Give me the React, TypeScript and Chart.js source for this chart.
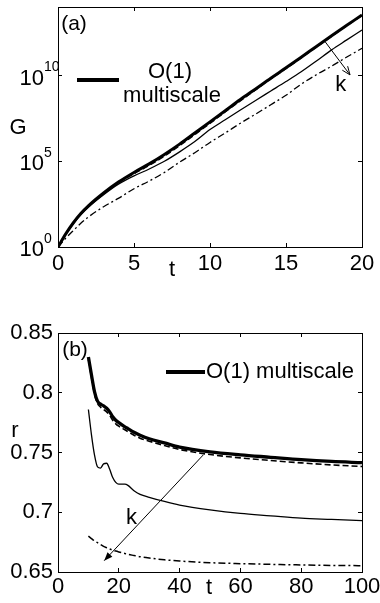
import React, { useEffect, useRef } from "react";
import { Chart, registerables } from "chart.js";

Chart.register(...registerables);

const FONT = '"Liberation Sans", Arial, Helvetica, sans-serif';

// ---------- Panel (a): G vs t (log scale) ----------
const tA = [0, 0.5, 1, 1.5, 2, 3, 4, 5, 6, 7, 8, 9, 10, 11, 12, 13, 14, 15, 16, 17, 18, 19, 20];
// log10(G) for each curve
const logG_O1 = [0, 0.75, 1.4, 1.95, 2.4, 3.15, 3.8, 4.35, 4.85, 5.4, 6.0, 6.65, 7.3, 7.95, 8.6, 9.22, 9.85, 10.45, 11.07, 11.7, 12.32, 12.93, 13.54];
const logG_k1 = [0, 0.73, 1.37, 1.92, 2.37, 3.11, 3.75, 4.27, 4.75, 5.29, 5.9, 6.55, 7.2, 7.87, 8.52, 9.16, 9.8, 10.4, 11.02, 11.65, 12.28, 12.9, 13.5];
const logG_k2 = [0, 0.72, 1.35, 1.88, 2.32, 3.05, 3.68, 4.15, 4.55, 5.0, 5.55, 6.15, 6.85, 7.42, 7.99, 8.55, 9.1, 9.65, 10.22, 10.85, 11.5, 12.08, 12.66];
const logG_k3 = [0, 0.5, 0.95, 1.38, 1.75, 2.35, 2.85, 3.4, 3.85, 4.35, 4.95, 5.5, 6.1, 6.65, 7.22, 7.75, 8.3, 8.85, 9.5, 10.05, 10.55, 11.08, 11.59];
const xTicksA = [0, 5, 10, 15, 20];
const xTickLabelsA = ["0", "5", "10", "15", "20"];
const yTickExpA = [0, 5, 10];
const legendA = ["O(1)", "multiscale"];

// ---------- Panel (b): r vs t ----------
const tB = [10, 11, 12, 13, 14, 15, 16, 17, 18, 19, 20, 22, 23, 25, 27, 30, 35, 40, 50, 60, 70, 80, 90, 100];
const r_O1 = [0.83, 0.815, 0.801, 0.793, 0.7905, 0.789, 0.787, 0.784, 0.78, 0.777, 0.775, 0.7715, 0.77, 0.767, 0.7645, 0.7615, 0.758, 0.7545, 0.7505, 0.748, 0.746, 0.744, 0.7425, 0.7415];
const r_k1 = [0.828, 0.813, 0.799, 0.791, 0.788, 0.786, 0.784, 0.781, 0.777, 0.774, 0.772, 0.769, 0.7675, 0.7645, 0.762, 0.7595, 0.7558, 0.7525, 0.7483, 0.7455, 0.7433, 0.7413, 0.7396, 0.7383];
const r_k2 = [0.786, 0.765, 0.748, 0.738, 0.737, 0.7405, 0.741, 0.736, 0.729, 0.725, 0.7235, 0.7235, 0.7225, 0.718, 0.715, 0.7125, 0.709, 0.706, 0.702, 0.699, 0.697, 0.695, 0.694, 0.693];
const r_k3 = [0.68, 0.678, 0.676, 0.6745, 0.673, 0.6715, 0.6703, 0.6692, 0.6683, 0.6675, 0.6668, 0.6655, 0.6648, 0.6638, 0.6628, 0.6617, 0.6602, 0.6592, 0.6578, 0.657, 0.6564, 0.6559, 0.6555, 0.6553];
const xTicksB = [0, 20, 40, 60, 80, 100];
const xTickLabelsB = ["0", "20", "40", "60", "80", "100"];
const yTicksB = [0.65, 0.7, 0.75, 0.8, 0.85];
const yTickLabelsB = ["0.65", "0.7", "0.75", "0.8", "0.85"];
const legendB = "O(1) multiscale";

// arrows (data coordinates): [tStart, yStart, tEnd, yEnd], and "k" label position
const arrowA = [17.57, 11.98, 19.21, 10.04];
const kLabelA = [18.6, 9.45];
const arrowB = [47.8, 0.748, 15.2, 0.6595];
const kLabelB = [24.2, 0.695];

const DASH = [6, 3];
const DASHDOT = [7, 3, 2, 3];

function pts(xs: number[], ys: number[], f?: (v: number) => number) {
  return xs.map((x, i) => ({ x, y: f ? f(ys[i]) : ys[i] }));
}
const pow10 = (v: number) => Math.pow(10, v);

function line(data: any[], width: number, dash: number[] = []) {
  return {
    data,
    borderColor: "#000",
    backgroundColor: "#000",
    borderWidth: width,
    borderDash: dash,
    pointRadius: 0,
    fill: false,
    cubicInterpolationMode: "monotone" as const,
  };
}

function drawArrow(ctx: CanvasRenderingContext2D, x1: number, y1: number, x2: number, y2: number, filled: boolean) {
  const ang = Math.atan2(y2 - y1, x2 - x1);
  const hl = 9;
  const ha = 0.38;
  ctx.save();
  ctx.strokeStyle = "#000000";
  ctx.fillStyle = "#000000";
  ctx.lineWidth = 1;
  ctx.setLineDash([]);
  ctx.beginPath();
  ctx.moveTo(x1, y1);
  ctx.lineTo(x2, y2);
  ctx.stroke();
  const ax = x2 - hl * Math.cos(ang - ha);
  const ay = y2 - hl * Math.sin(ang - ha);
  const bx = x2 - hl * Math.cos(ang + ha);
  const by = y2 - hl * Math.sin(ang + ha);
  ctx.beginPath();
  ctx.moveTo(ax, ay);
  ctx.lineTo(x2, y2);
  ctx.lineTo(bx, by);
  if (filled) {
    ctx.closePath();
    ctx.fill();
  } else {
    ctx.stroke();
  }
  ctx.restore();
}

function text(ctx: CanvasRenderingContext2D, s: string, x: number, y: number, size: number, align: CanvasTextAlign = "center") {
  ctx.save();
  ctx.fillStyle = "#000";
  ctx.font = `${size}px ${FONT}`;
  ctx.textAlign = align;
  ctx.textBaseline = "middle";
  ctx.fillText(s, x, y);
  ctx.restore();
}

const tickFont = { family: FONT, size: 22 };
const TL = -4; // inward tick marks

function noPad(s: any) {
  s.paddingTop = 0;
  s.paddingBottom = 0;
  s.paddingLeft = 0;
  s.paddingRight = 0;
}

// an axis that forms one side of the box frame, with inward ticks
function axis(type: string, position: string, min: number, max: number, tickVals: number[], opts: any) {
  return {
    type,
    position,
    min,
    max,
    border: { display: true, color: "#000", width: 1 },
    grid: { display: true, drawOnChartArea: false, drawTicks: true, tickLength: TL, color: "#000", lineWidth: 1 },
    afterBuildTicks: (s: any) => {
      s.ticks = tickVals.map((v) => ({ value: v }));
    },
    ...opts,
  };
}

function configA(): any {
  const deco = {
    id: "decoA",
    afterDraw(chart: any) {
      const ctx = chart.ctx;
      const xs = chart.scales.x;
      const ys = chart.scales.y;
      yTickExpA.forEach((e) => {
        const p = ys.getPixelForValue(pow10(e));
        text(ctx, String(e), 44, p - 8, 14, "left");
      });
      text(ctx, "G", 18, 128, 22);
      text(ctx, "t", 172, 270, 22);
      text(ctx, "(a)", 74, 24, 21);
      ctx.save();
      ctx.fillStyle = "#000";
      ctx.fillRect(77, 78, 42, 4);
      ctx.restore();
      text(ctx, legendA[0], 170, 72, 22);
      text(ctx, legendA[1], 172, 96, 22);
      drawArrow(ctx, xs.getPixelForValue(arrowA[0]), ys.getPixelForValue(pow10(arrowA[1])), xs.getPixelForValue(arrowA[2]), ys.getPixelForValue(pow10(arrowA[3])), false);
      text(ctx, "k", xs.getPixelForValue(kLabelA[0]), ys.getPixelForValue(pow10(kLabelA[1])), 22);
    },
  };
  const yVals = yTickExpA.map(pow10);
  return {
    type: "line",
    data: {
      datasets: [
        line(pts(tA, logG_k3, pow10), 1.3, DASHDOT),
        line(pts(tA, logG_k2, pow10), 1.3),
        line(pts(tA, logG_k1, pow10), 1.2, DASH),
        line(pts(tA, logG_O1, pow10), 3),
      ],
    },
    options: {
      responsive: false,
      animation: false,
      devicePixelRatio: 1,
      layout: { padding: { left: 0, right: 18, top: 7, bottom: 0 } },
      plugins: { legend: { display: false }, tooltip: { enabled: false } },
      scales: {
        x: axis("linear", "bottom", 0, 20, xTicksA, {
          afterFit: (s: any) => { s.height = 53; noPad(s); },
          ticks: { color: "#000", font: tickFont, padding: 8, maxRotation: 0, autoSkip: false, callback: (_v: any, i: number) => xTickLabelsA[i] },
        }),
        y: axis("logarithmic", "left", 1, 1e14, yVals, {
          afterFit: (s: any) => { s.width = 58; noPad(s); },
          ticks: { color: "#000", font: tickFont, padding: 18, labelOffset: 3, autoSkip: false, callback: () => "10" },
        }),
        x2: axis("linear", "top", 0, 20, xTicksA, {
          axis: "x",
          afterFit: (s: any) => { s.height = 0; noPad(s); },
          ticks: { display: false },
        }),
        y2: axis("logarithmic", "right", 1, 1e14, yVals, {
          axis: "y",
          afterFit: (s: any) => { s.width = 0; noPad(s); },
          ticks: { display: false },
        }),
      },
    },
    plugins: [deco],
  };
}

function configB(): any {
  const deco = {
    id: "decoB",
    afterDraw(chart: any) {
      const ctx = chart.ctx;
      const xs = chart.scales.x;
      const ys = chart.scales.y;
      text(ctx, "r", 15, 131, 22);
      text(ctx, "t", 209, 288, 22);
      text(ctx, "(b)", 75, 50, 21);
      ctx.save();
      ctx.fillStyle = "#000";
      ctx.fillRect(166, 70, 39, 4);
      ctx.restore();
      text(ctx, legendB, 206, 72, 22, "left");
      drawArrow(ctx, xs.getPixelForValue(arrowB[0]), ys.getPixelForValue(arrowB[1]), xs.getPixelForValue(arrowB[2]), ys.getPixelForValue(arrowB[3]), true);
      text(ctx, "k", xs.getPixelForValue(kLabelB[0]), ys.getPixelForValue(kLabelB[1]), 22);
    },
  };
  return {
    type: "line",
    data: {
      datasets: [
        line(pts(tB, r_k3), 1.5, DASHDOT),
        line(pts(tB, r_k2), 1.3),
        line(pts(tB, r_k1), 1.6, DASH),
        line(pts(tB, r_O1), 3.3),
      ],
    },
    options: {
      responsive: false,
      animation: false,
      devicePixelRatio: 1,
      layout: { padding: { left: 0, right: 18, top: 33, bottom: 0 } },
      plugins: { legend: { display: false }, tooltip: { enabled: false } },
      scales: {
        x: axis("linear", "bottom", 0, 100, xTicksB, {
          afterFit: (s: any) => { s.height = 31; noPad(s); },
          ticks: { color: "#000", font: tickFont, padding: 6, maxRotation: 0, autoSkip: false, callback: (_v: any, i: number) => xTickLabelsB[i] },
        }),
        y: axis("linear", "left", 0.65, 0.85, yTicksB, {
          afterFit: (s: any) => { s.width = 58; noPad(s); },
          ticks: { color: "#000", font: tickFont, padding: 9, autoSkip: false, callback: (_v: any, i: number) => yTickLabelsB[i] },
        }),
        x2: axis("linear", "top", 0, 100, xTicksB, {
          axis: "x",
          afterFit: (s: any) => { s.height = 0; noPad(s); },
          ticks: { display: false },
        }),
        y2: axis("linear", "right", 0.65, 0.85, yTicksB, {
          axis: "y",
          afterFit: (s: any) => { s.width = 0; noPad(s); },
          ticks: { display: false },
        }),
      },
    },
    plugins: [deco],
  };
}

export default function App() {
  const refA = useRef<HTMLCanvasElement>(null);
  const refB = useRef<HTMLCanvasElement>(null);
  useEffect(() => {
    const a = new Chart(refA.current as HTMLCanvasElement, configA());
    const b = new Chart(refB.current as HTMLCanvasElement, configB());
    return () => {
      a.destroy();
      b.destroy();
    };
  }, []);
  return (
    <div style={{ position: "absolute", left: 0, top: 0, width: 380, height: 603, background: "#fff" }}>
      <canvas ref={refA} width={380} height={300} style={{ position: "absolute", left: 0, top: 0, width: 380, height: 300 }} />
      <canvas ref={refB} width={380} height={303} style={{ position: "absolute", left: 0, top: 300, width: 380, height: 303 }} />
    </div>
  );
}
